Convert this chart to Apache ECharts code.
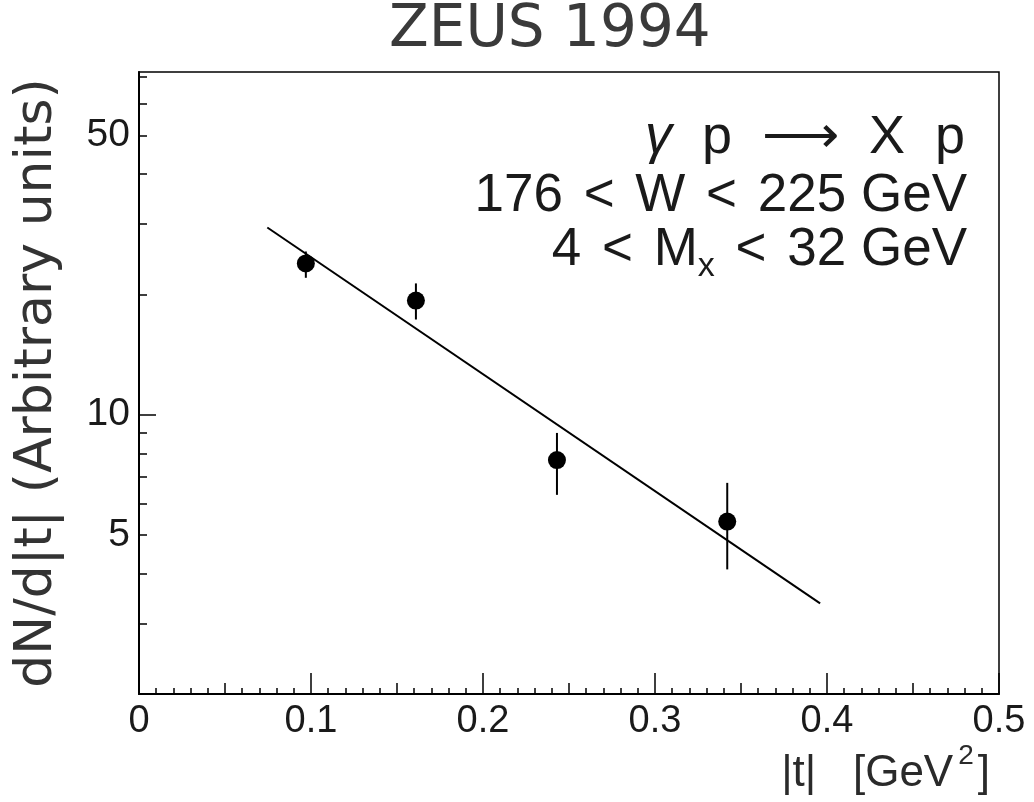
<!DOCTYPE html>
<html>
<head>
<meta charset="utf-8">
<title>ZEUS 1994</title>
<script src="https://cdn.jsdelivr.net/npm/echarts@6/dist/echarts.min.js"></script>
<style>
  html, body { margin: 0; padding: 0; background: #fff; }
  #main { width: 1034px; height: 802px; }
</style>
</head>
<body>
<div id="main"></div>
<script>
/* ------------------------------ 数据 ------------------------------ */
// |t| of the measured points [GeV^2]
const tValues = [0.097, 0.161, 0.243, 0.342]
// dN/d|t| (arbitrary units)
const dndtValues = [23.9, 19.3, 7.7, 5.4]
const errLow = [22.0, 17.3, 6.3, 4.1]
const errHigh = [25.6, 21.3, 9.0, 6.75]
// exponential fit, drawn between its two end points
const fitT = [0.0746, 0.396]
const fitY = [29.4, 3.37]
// axis ticks
const xLabelTicks = [0, 0.1, 0.2, 0.3, 0.4, 0.5]
const yLabelValues = [5, 10, 50]
const yMajorTicks = [10]
const yMinorTicks = [2, 3, 4, 5, 6, 7, 8, 9, 20, 30, 40, 50, 60, 70]

const chart = echarts.init(document.getElementById('main'), null, { renderer: 'canvas' })

const pointData = tValues.map((t, i) => [t, dndtValues[i]])
const errData = tValues.map((t, i) => [t, errLow[i], errHigh[i]])
const fitData = fitT.map((t, i) => [t, fitY[i]])

const tickFont = 'Liberation Sans, Arial, sans-serif'
const ink = '#1a1a1a'

// error bar: vertical line, no caps
function renderError(params, api) {
  const top = api.coord([api.value(0), api.value(2)])
  const bottom = api.coord([api.value(0), api.value(1)])
  return {
    type: 'line',
    shape: { x1: top[0], y1: top[1], x2: bottom[0], y2: bottom[1] },
    style: { stroke: '#000', lineWidth: 2 }
  }
}

const option = {
  animation: false,
  backgroundColor: '#fff',
  grid: {
    left: 139, top: 72, right: 35, bottom: 108,
    show: true, borderColor: '#000', borderWidth: 1.5,
    backgroundColor: 'transparent'
  },
  xAxis: [
    {
      type: 'value', min: 0, max: 0.5, interval: 0.1,
      position: 'bottom',
      axisLine: { show: true, onZero: false, lineStyle: { color: '#000', width: 2 } },
      axisTick: { show: true, inside: true, length: 21, lineStyle: { color: '#000', width: 1.5 } },
      minorTick: { show: true, splitNumber: 10, length: 6, lineStyle: { color: '#000', width: 1.5 } },
      splitLine: { show: false },
      axisLabel: {
        show: true, margin: 9, fontSize: 38, fontFamily: tickFont, color: ink,
        customValues: xLabelTicks,
        formatter: v => (v === 0 ? '0' : String(Math.round(v * 10) / 10))
      }
    },
    {
      // 0.05 medium ticks
      type: 'value', min: 0, max: 0.5, interval: 0.05,
      position: 'bottom',
      axisLine: { show: false, onZero: false },
      axisTick: { show: true, inside: true, length: 11, lineStyle: { color: '#000', width: 1.5 } },
      splitLine: { show: false },
      axisLabel: { show: false }
    }
  ],
  yAxis: [
    {
      type: 'log', logBase: 10, min: 2, max: 72,
      position: 'left',
      name: 'dN/d|t| (Arbitrary units)',
      nameLocation: 'middle',
      nameGap: 76,
      nameTextStyle: { fontSize: 52, fontFamily: 'DejaVu Sans, sans-serif', color: '#333' },
      axisLine: { show: true, onZero: false, lineStyle: { color: '#000', width: 2 } },
      axisTick: { show: true, inside: true, length: 17, customValues: yMajorTicks, lineStyle: { color: '#000', width: 1.5 } },
      minorTick: { show: false },
      splitLine: { show: false },
      axisLabel: {
        show: true, margin: 9, fontSize: 39, fontFamily: tickFont, color: ink,
        customValues: yLabelValues
      }
    },
    {
      type: 'log', logBase: 10, min: 2, max: 72,
      position: 'left',
      axisLine: { show: false, onZero: false },
      axisTick: { show: true, inside: true, length: 8, customValues: yMinorTicks, lineStyle: { color: '#000', width: 1.5 } },
      splitLine: { show: false },
      axisLabel: { show: false }
    }
  ],
  graphic: [
    {
      type: 'text', left: 389, top: 2,
      style: { text: 'ZEUS 1994', fontSize: 58, fontFamily: 'DejaVu Sans, sans-serif', fill: '#3a3a3a' }
    },
    {
      // |t| [GeV^2]
      type: 'text', right: 44, top: 742,
      style: {
        text: '{m||t|   [GeV}{s|2}{m|]}',
        rich: {
          m: { fontSize: 44, fontFamily: tickFont, fill: '#2a2a2a', lineHeight: 54, verticalAlign: 'bottom' },
          s: { fontSize: 28, fontFamily: tickFont, fill: '#2a2a2a', lineHeight: 30, verticalAlign: 'top', padding: [0, 4, 0, 5] }
        }
      }
    },
    {
      type: 'text', right: 69, top: 111,
      style: {
        text: '{g|γ}{m|  p  ⟶  X  p}',
        rich: {
          g: { fontSize: 54, fontStyle: 'italic', fontFamily: tickFont, fill: ink },
          m: { fontSize: 54, fontFamily: tickFont, fill: ink }
        }
      }
    },
    {
      type: 'text', right: 67, top: 170,
      style: {
        text: '{m|176 }{o|<}{m| W }{o|<}{m| 225 GeV}',
        rich: {
          m: { fontSize: 53, fontFamily: tickFont, fill: ink },
          o: { fontSize: 53, fontFamily: tickFont, fill: ink, padding: [0, 6] }
        }
      }
    },
    {
      type: 'text', right: 67, top: 224,
      style: {
        text: '{m|4 }{o|<}{m| M}{s|x}{m| }{o|<}{m| 32 GeV}',
        rich: {
          m: { fontSize: 53, fontFamily: tickFont, fill: ink, lineHeight: 60, verticalAlign: 'top' },
          o: { fontSize: 53, fontFamily: tickFont, fill: ink, lineHeight: 60, verticalAlign: 'top', padding: [0, 6] },
          s: { fontSize: 34, fontFamily: tickFont, fill: ink, lineHeight: 26, verticalAlign: 'bottom' }
        }
      }
    }
  ],
  series: [
    {
      type: 'line',
      data: fitData,
      xAxisIndex: 0, yAxisIndex: 0,
      showSymbol: false,
      lineStyle: { color: '#000', width: 2 },
      z: 2
    },
    {
      type: 'custom',
      data: errData,
      xAxisIndex: 0, yAxisIndex: 0,
      renderItem: renderError,
      encode: { x: 0, y: [1, 2] },
      z: 3
    },
    {
      type: 'scatter',
      data: pointData,
      xAxisIndex: 0, yAxisIndex: 0,
      symbol: 'circle',
      symbolSize: 18,
      itemStyle: { color: '#000', opacity: 1 },
      z: 4
    }
  ]
}

chart.setOption(option)
</script>
</body>
</html>
